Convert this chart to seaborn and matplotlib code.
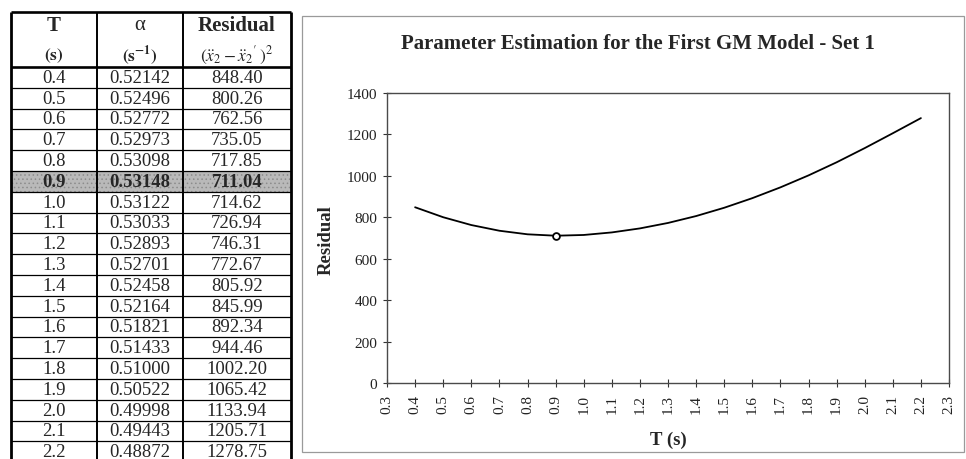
import matplotlib
matplotlib.use("Agg")
import matplotlib.pyplot as plt
from matplotlib.patches import Rectangle
import numpy as np
import pandas as pd
import seaborn as sns


T_VALUES = [0.4, 0.5, 0.6, 0.7, 0.8, 0.9, 1.0, 1.1, 1.2, 1.3,
            1.4, 1.5, 1.6, 1.7, 1.8, 1.9, 2.0, 2.1, 2.2]
ALPHA_VALUES = [0.52142, 0.52496, 0.52772, 0.52973, 0.53098, 0.53148, 0.53122,
                0.53033, 0.52893, 0.52701, 0.52458, 0.52164, 0.51821, 0.51433,
                0.51000, 0.50522, 0.49998, 0.49443, 0.48872]
RESIDUAL_VALUES = [848.40, 800.26, 762.56, 735.05, 717.85, 711.04, 714.62,
                   726.94, 746.31, 772.67, 805.92, 845.99, 892.34, 944.46,
                   1002.20, 1065.42, 1133.94, 1205.71, 1278.75]
X_TICKS = [0.3, 0.4, 0.5, 0.6, 0.7, 0.8, 0.9, 1.0, 1.1, 1.2, 1.3,
           1.4, 1.5, 1.6, 1.7, 1.8, 1.9, 2.0, 2.1, 2.2, 2.3]
Y_TICKS = [0, 200, 400, 600, 800, 1000, 1200, 1400]

TITLE = "Parameter Estimation for the First GM Model - Set 1"
HEADER_TOP = ["T", "\u03b1", "Residual"]
HEADER_SUB = [r"$\mathbf{(s)}$", r"$\mathbf{(s^{-1})}$", r"$(\ddot{x}_2 - \ddot{x}_2{}^{\prime}\,)^2$"]

W, H = 966, 460

sns.set_style("ticks")
plt.rcParams["font.family"] = ["Liberation Serif", "DejaVu Serif"]
plt.rcParams["mathtext.fontset"] = "stix"
plt.rcParams["hatch.linewidth"] = 0.6


def px_rect(left, top, right, bottom):
    return [left / W, 1 - bottom / H, (right - left) / W, (bottom - top) / H]


def draw_table(fig, df, best_idx):
    ax = fig.add_axes([0, 0, 1, 1])
    ax.set_xlim(0, W)
    ax.set_ylim(H, 0)
    ax.axis("off")

    cols = [11, 97, 183, 291]
    top, head_bottom, row_h = 12.5, 68, 20.8
    bottom = head_bottom + row_h * len(df)
    centers = [(a + b) / 2 for a, b in zip(cols[:-1], cols[1:])]

    # highlighted row (minimum residual)
    y0 = head_bottom + best_idx * row_h
    ax.add_patch(Rectangle((cols[0], y0), cols[-1] - cols[0], row_h,
                           facecolor="#b9b9b9", edgecolor="#8c8c8c", hatch="....", lw=0))

    for i in range(1, len(df) + 1):
        ax.hlines(head_bottom + i * row_h, cols[0], cols[-1], color="black", lw=0.9)
    ax.hlines([top, head_bottom], cols[0], cols[-1], color="black", lw=1.9)
    ax.vlines([cols[0], cols[-1]], top, bottom, color="black", lw=2.0)
    ax.vlines(cols[1:-1], top, bottom, color="black", lw=1.4)

    for cx, label in zip(centers, HEADER_TOP):
        weight = "normal" if label == "\u03b1" else "bold"
        ax.text(cx, 26, label, ha="center", va="center", fontsize=15, fontweight=weight)
    for cx, label in zip(centers, HEADER_SUB):
        ax.text(cx, 56, label, ha="center", va="center", fontsize=12.5)

    for i, row in df.iterrows():
        cy = head_bottom + (i + 0.5) * row_h
        weight = "bold" if i == best_idx else "normal"
        cells = [f"{row['T']:.1f}", f"{row['alpha']:.5f}", f"{row['residual']:.2f}"]
        for cx, txt in zip(centers, cells):
            ax.text(cx, cy, txt, ha="center", va="center", fontsize=13.5, fontweight=weight)


def draw_chart(fig, df, best_idx):
    fig.patches.append(Rectangle((302 / W, 1 - 453 / H), (964 - 302) / W, (453 - 17) / H,
                                 transform=fig.transFigure, fill=False,
                                 edgecolor="#9a9a9a", lw=0.9))

    ax = fig.add_axes(px_rect(387, 94, 949, 384))
    sns.lineplot(data=df, x="T", y="residual", ax=ax, color="black", linewidth=1.3)
    best = df.iloc[[best_idx]]
    sns.scatterplot(data=best, x="T", y="residual", ax=ax, marker="o", s=24,
                    facecolor="white", edgecolor="black", linewidth=1.3, zorder=3)

    ax.set_xlim(X_TICKS[0], X_TICKS[-1])
    ax.set_ylim(Y_TICKS[0], Y_TICKS[-1])
    ax.set_xticks(X_TICKS)
    ax.set_xticklabels([f"{v:.1f}" for v in X_TICKS], rotation=90)
    ax.set_yticks(Y_TICKS)
    ax.tick_params(axis="both", direction="inout", length=6, width=0.8,
                   color="#333333", labelsize=11, labelcolor="#222222")
    ax.tick_params(axis="y", pad=4)
    ax.tick_params(axis="x", pad=5)
    for spine in ax.spines.values():
        spine.set_visible(True)
        spine.set_color("#4a4a4a")
        spine.set_linewidth(1.0)
    ax.set_xlabel("")
    ax.set_ylabel("")

    fig.text(638 / W, 1 - 44 / H, TITLE, ha="center", va="center",
             fontsize=15, fontweight="bold")
    fig.text(326 / W, 1 - 240 / H, "Residual", ha="center", va="center",
             rotation=90, fontsize=13.5, fontweight="bold")
    fig.text(668 / W, 1 - 440 / H, "T (s)", ha="center", va="center",
             fontsize=13.5, fontweight="bold")


def main():
    df = pd.DataFrame({"T": T_VALUES, "alpha": ALPHA_VALUES, "residual": RESIDUAL_VALUES})
    best_idx = int(np.argmin(df["residual"].values))

    fig = plt.figure(figsize=(W / 100, H / 100), dpi=100)
    fig.patch.set_facecolor("white")
    draw_table(fig, df, best_idx)
    draw_chart(fig, df, best_idx)
    fig.savefig("out.png", dpi=100)
    plt.close(fig)


if __name__ == "__main__":
    main()
